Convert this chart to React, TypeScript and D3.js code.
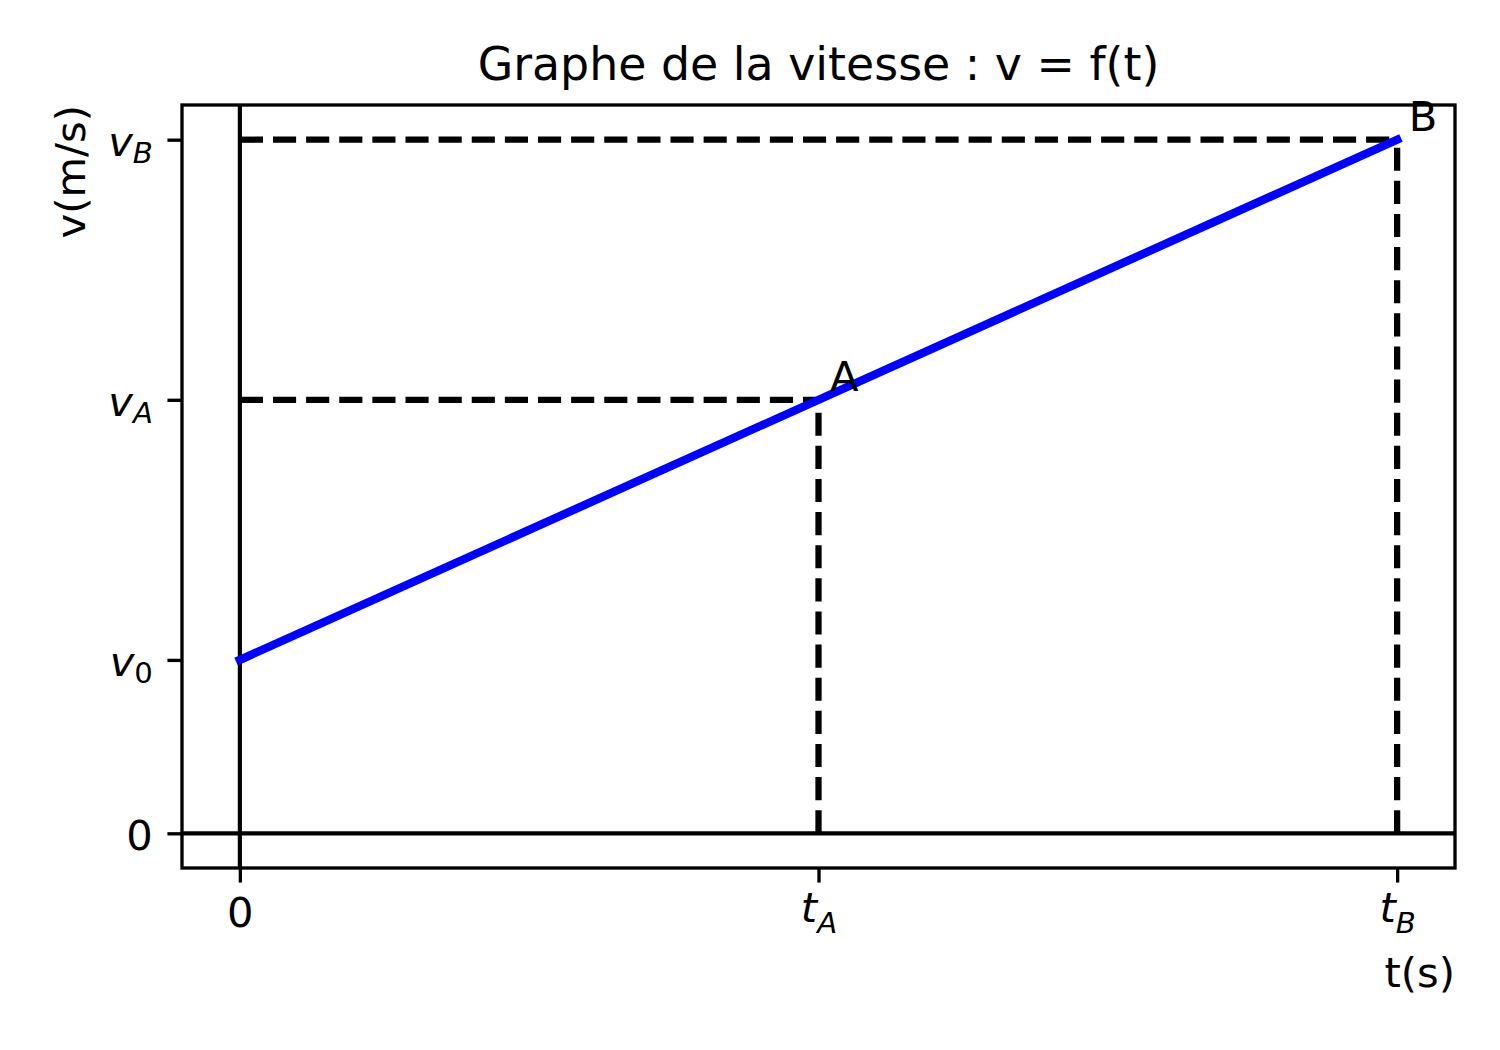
import React, { useEffect, useRef } from "react";
import * as d3 from "d3";

// ticks: [main glyph, subscript]
const tickTimes = [0, 1, 2];
const timeTickLabels = [["0", ""], ["t", "A"], ["t", "B"]];
const tickSpeeds = [0, 1, 2.5, 4];
const speedTickLabels = [["0", ""], ["v", "0"], ["v", "A"], ["v", "B"]];

// the v = f(t) segment
const lineTimes = [0, 2];
const lineSpeeds = [1, 4];

// named points A and B
const pointNames = ["A", "B"];
const pointTimes = [1, 2];
const pointSpeeds = [2.5, 4];

const titleText = "Graphe de la vitesse : v = f(t)";
const xLabelText = "t(s)";
const yLabelText = "v(m/s)";

const FONT = "DejaVu Sans";
const PT = 300 / 72; // figure saved at 300 dpi

function renderChartFn(el: SVGSVGElement) {
  const box = { left: 182, right: 1455, top: 105, bottom: 868 };

  const svg = d3.select(el);
  svg.selectAll("*").remove();

  // matplotlib style autoscale, 5% margins
  const tAll = [...tickTimes, ...lineTimes, ...pointTimes];
  const vAll = [...tickSpeeds, ...lineSpeeds, ...pointSpeeds];
  const [t0, t1] = d3.extent(tAll) as [number, number];
  const [v0, v1] = d3.extent(vAll) as [number, number];
  const tPad = (t1 - t0) * 0.05;
  const vPad = (v1 - v0) * 0.05;

  const x = d3.scaleLinear().domain([t0 - tPad, t1 + tPad]).range([box.left, box.right]);
  const y = d3.scaleLinear().domain([v0 - vPad, v1 + vPad]).range([box.bottom, box.top]);

  svg.append("rect").attr("width", 1500).attr("height", 1050).attr("fill", "white");

  const plot = svg.append("g");

  // axhline / axvline through 0
  plot
    .append("line")
    .attr("x1", box.left)
    .attr("x2", box.right)
    .attr("y1", y(0))
    .attr("y2", y(0))
    .attr("stroke", "black")
    .attr("stroke-width", 1 * PT);
  plot
    .append("line")
    .attr("x1", x(0))
    .attr("x2", x(0))
    .attr("y1", box.top)
    .attr("y2", box.bottom)
    .attr("stroke", "black")
    .attr("stroke-width", 1 * PT);

  // projection dashes for A and B
  const dash = `${3.7 * 1.5 * PT},${1.6 * 1.5 * PT}`;
  pointTimes.forEach((t, i) => {
    const v = pointSpeeds[i];
    plot
      .append("line")
      .attr("x1", x(0))
      .attr("y1", y(v))
      .attr("x2", x(t))
      .attr("y2", y(v))
      .attr("stroke", "black")
      .attr("stroke-width", 1.5 * PT)
      .attr("stroke-dasharray", dash);
    plot
      .append("line")
      .attr("x1", x(t))
      .attr("y1", y(0))
      .attr("x2", x(t))
      .attr("y2", y(v))
      .attr("stroke", "black")
      .attr("stroke-width", 1.5 * PT)
      .attr("stroke-dasharray", dash);
  });

  const line = d3
    .line<number>()
    .x((d) => x(d))
    .y((d, i) => y(lineSpeeds[i]));
  plot
    .append("path")
    .attr("d", line(lineTimes))
    .attr("fill", "none")
    .attr("stroke", "#0000ff")
    .attr("stroke-width", 2 * PT)
    .attr("stroke-linecap", "square");

  // point names
  pointNames.forEach((name, i) => {
    plot
      .append("text")
      .attr("x", x(pointTimes[i] + 0.02))
      .attr("y", y(pointSpeeds[i] + 0.05))
      .attr("font-family", FONT)
      .attr("font-size", 10 * PT)
      .text(name);
  });

  // spines
  svg
    .append("rect")
    .attr("x", box.left)
    .attr("y", box.top)
    .attr("width", box.right - box.left)
    .attr("height", box.bottom - box.top)
    .attr("fill", "none")
    .attr("stroke", "black")
    .attr("stroke-width", 0.8 * PT);

  const mathLabel = (sel: any, parts: string[], subShift: number) => {
    sel.text(null);
    const isItalic = (s: string) => /[A-Za-z]/.test(s);
    sel
      .append("tspan")
      .attr("font-style", isItalic(parts[0]) ? "italic" : "normal")
      .text(parts[0]);
    if (parts[1]) {
      sel
        .append("tspan")
        .attr("font-size", 10 * PT * 0.7)
        .attr("dy", subShift)
        .attr("font-style", isItalic(parts[1]) ? "italic" : "normal")
        .text(parts[1]);
    }
  };

  const xAxis = svg
    .append("g")
    .attr("transform", `translate(0,${box.bottom})`)
    .call(
      d3
        .axisBottom(x)
        .tickValues(tickTimes)
        .tickSize(3.5 * PT)
        .tickPadding(3.5 * PT)
        .tickFormat(() => "")
    );
  xAxis.select(".domain").remove();
  xAxis.selectAll(".tick line").attr("stroke-width", 0.8 * PT);
  xAxis
    .selectAll(".tick text")
    .attr("font-family", FONT)
    .attr("font-size", 10 * PT)
    .attr("fill", "black")
    .each(function (d, i) {
      const parts = timeTickLabels[i];
      const t = d3.select(this);
      t.attr("dy", parts[1] ? "0.6em" : "0.71em");
      mathLabel(t, parts, 11);
    });

  const yAxis = svg
    .append("g")
    .attr("transform", `translate(${box.left},0)`)
    .call(
      d3
        .axisLeft(y)
        .tickValues(tickSpeeds)
        .tickSize(3.5 * PT)
        .tickPadding(3.5 * PT)
        .tickFormat(() => "")
    );
  yAxis.select(".domain").remove();
  yAxis.selectAll(".tick line").attr("stroke-width", 0.8 * PT);
  yAxis
    .selectAll(".tick text")
    .attr("font-family", FONT)
    .attr("font-size", 10 * PT)
    .attr("fill", "black")
    .each(function (d, i) {
      const parts = speedTickLabels[i];
      const t = d3.select(this);
      t.attr("dy", parts[1] ? "0.37em" : "0.4em");
      mathLabel(t, parts, 7);
    });

  // title and axis labels
  svg
    .append("text")
    .attr("x", (box.left + box.right) / 2)
    .attr("y", 80)
    .attr("text-anchor", "middle")
    .attr("font-family", FONT)
    .attr("font-size", 11 * PT)
    .text(titleText);

  svg
    .append("text")
    .attr("x", box.right)
    .attr("y", 987)
    .attr("text-anchor", "end")
    .attr("font-family", FONT)
    .attr("font-size", 10 * PT)
    .text(xLabelText);

  svg
    .append("text")
    .attr("transform", `translate(85,${box.top}) rotate(-90)`)
    .attr("text-anchor", "end")
    .attr("font-family", FONT)
    .attr("font-size", 10 * PT)
    .text(yLabelText);
}

const App: React.FC = () => {
  const ref = useRef<SVGSVGElement>(null);
  useEffect(() => {
    if (ref.current) renderChartFn(ref.current);
  }, []);
  return (
    <svg
      ref={ref}
      width={1500}
      height={1050}
      style={{ position: "absolute", left: 0, top: 0, display: "block" }}
    />
  );
};

export default App;
